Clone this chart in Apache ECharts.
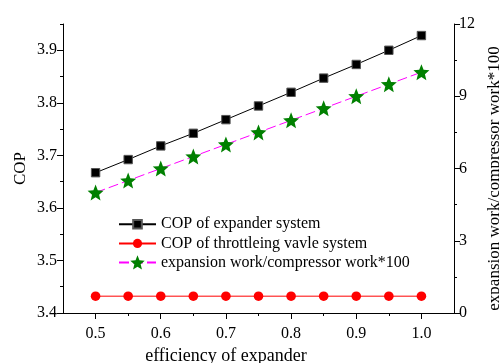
<!DOCTYPE html>
<html>
<head>
<meta charset="utf-8">
<script src="https://cdn.jsdelivr.net/npm/echarts@6/dist/echarts.min.js"></script>
<style>html,body{margin:0;padding:0;background:#fff;}#c{width:499px;height:363px;}</style>
</head>
<body>
<div id="c"></div>
<script>
const efficiency = [0.5, 0.55, 0.6, 0.65, 0.7, 0.75, 0.8, 0.85, 0.9, 0.95, 1.0];
const copExpander = [3.667, 3.692, 3.718, 3.742, 3.768, 3.794, 3.820, 3.847, 3.873, 3.900, 3.928];
const copThrottle = [3.432, 3.432, 3.432, 3.432, 3.432, 3.432, 3.432, 3.432, 3.432, 3.432, 3.432];
const workRatio = [5.0, 5.5, 6.0, 6.5, 7.0, 7.5, 8.0, 8.5, 9.0, 9.5, 10.0];

const xTicks = [0.5, 0.6, 0.7, 0.8, 0.9, 1.0];
const xMinorTicks = [0.55, 0.65, 0.75, 0.85, 0.95];
const copTicks = [3.4, 3.5, 3.6, 3.7, 3.8, 3.9];
const copMinorTicks = [3.45, 3.55, 3.65, 3.75, 3.85, 3.95];
const rightTicks = [0, 3, 6, 9, 12];

const seriesNames = ['COP of expander system', 'COP of throttleing vavle system', 'expansion work/compressor work*100'];
const xName = 'efficiency of expander';
const yLeftName = 'COP';
const yRightName = 'expansion work/compressor work*100';

const FONT = '"Liberation Serif", "Times New Roman", serif';
// symbols padded inside a 100x100 box so the legend (80% of itemHeight) shows them at the right size
const BOX = 'M0,0 L0,0 M100,100 L100,100 ';
const SQUARE = 'path://' + BOX + 'M20,20 L80,20 L80,80 L20,80 Z';
const CIRCLE = 'path://' + BOX + 'M50,18 A32,32 0 1,1 50,82 A32,32 0 1,1 50,18 Z';
const STAR = 'path://M50,0 L62.93,32.2 L97.55,34.55 L70.92,56.8 L79.39,90.45 L50,72 L20.61,90.45 L29.08,56.8 L2.45,34.55 L37.07,32.2 Z';

const pair = (ys) => efficiency.map((x, i) => [x, ys[i]]);
const blackLine = { show: true, lineStyle: { color: '#000', width: 1 } };

const chart = echarts.init(document.getElementById('c'), null, { renderer: 'canvas' });
chart.setOption({
  animation: false,
  backgroundColor: '#fff',
  textStyle: { fontFamily: FONT, color: '#000' },
  grid: { left: 63, right: 45, top: 24, bottom: 50, containLabel: false, outerBoundsMode: 'none' },
  legend: {
    orient: 'vertical',
    left: 113,
    top: 211,
    itemWidth: 37,
    itemHeight: 18,
    itemGap: 3,
    textStyle: { fontFamily: FONT, fontSize: 16, color: '#000' },
    data: seriesNames
  },
  xAxis: [
    {
      type: 'value', min: 0.45, max: 1.05, position: 'bottom',
      axisLine: blackLine,
      axisTick: { show: true, inside: false, length: 6, customValues: xTicks, lineStyle: { color: '#000' } },
      axisLabel: { customValues: xTicks, margin: 13, fontFamily: FONT, fontSize: 16, color: '#000', formatter: v => v.toFixed(1) },
      splitLine: { show: false },
      name: xName, nameLocation: 'middle', nameGap: 31,
      nameTextStyle: { fontFamily: FONT, fontSize: 18, color: '#000', padding: [0, 65, 0, 0] }
    },
    {
      type: 'value', min: 0.45, max: 1.05, position: 'bottom',
      axisLine: { show: false },
      axisTick: { show: true, inside: false, length: 3, customValues: xMinorTicks, lineStyle: { color: '#000' } },
      axisLabel: { show: false },
      splitLine: { show: false }
    }
  ],
  yAxis: [
    {
      type: 'value', min: 3.4, max: 3.95, position: 'left',
      axisLine: blackLine,
      axisTick: { show: true, inside: false, length: 6, customValues: copTicks, lineStyle: { color: '#000' } },
      axisLabel: { customValues: copTicks, margin: 6, fontFamily: FONT, fontSize: 16, color: '#000', formatter: v => v.toFixed(1) },
      splitLine: { show: false },
      name: yLeftName, nameLocation: 'middle', nameGap: 34, nameRotate: 90, nameMoveOverlap: false,
      nameTextStyle: { fontFamily: FONT, fontSize: 17, color: '#000' }
    },
    {
      type: 'value', min: 0, max: 12, interval: 3, position: 'right',
      axisLine: blackLine,
      axisTick: { show: true, inside: false, length: 6, lineStyle: { color: '#000' } },
      minorTick: { show: true, splitNumber: 2, length: 3, lineStyle: { color: '#000' } },
      axisLabel: { margin: 5, fontFamily: FONT, fontSize: 16, color: '#000', formatter: v => String(v) },
      splitLine: { show: false },
      name: yRightName, nameLocation: 'middle', nameGap: 24, nameRotate: 90,
      nameTextStyle: { fontFamily: FONT, fontSize: 17, color: '#000', padding: [0, 20, 0, 0] }
    },
    {
      type: 'value', min: 3.4, max: 3.95, position: 'left',
      axisLine: { show: false },
      axisTick: { show: true, inside: false, length: 3, customValues: copMinorTicks, lineStyle: { color: '#000' } },
      axisLabel: { show: false },
      splitLine: { show: false }
    }
  ],
  series: [
    {
      name: seriesNames[0], type: 'line', xAxisIndex: 0, yAxisIndex: 0,
      data: pair(copExpander),
      symbol: SQUARE, symbolSize: 14,
      itemStyle: { color: '#000', borderColor: '#555', borderWidth: 1 },
      lineStyle: { color: '#000', width: 1 }
    },
    {
      name: seriesNames[1], type: 'line', xAxisIndex: 0, yAxisIndex: 0,
      data: pair(copThrottle),
      symbol: CIRCLE, symbolSize: 15,
      itemStyle: { color: '#ff0000', borderWidth: 0 },
      lineStyle: { color: '#ff0000', width: 1 }
    },
    {
      name: seriesNames[2], type: 'line', xAxisIndex: 0, yAxisIndex: 1,
      data: pair(workRatio),
      symbol: STAR, symbolSize: 16,
      itemStyle: { color: '#008000', borderWidth: 0 },
      lineStyle: { color: '#ff00ff', width: 1, type: [10, 4] }
    }
  ]
});
</script>
</body>
</html>
